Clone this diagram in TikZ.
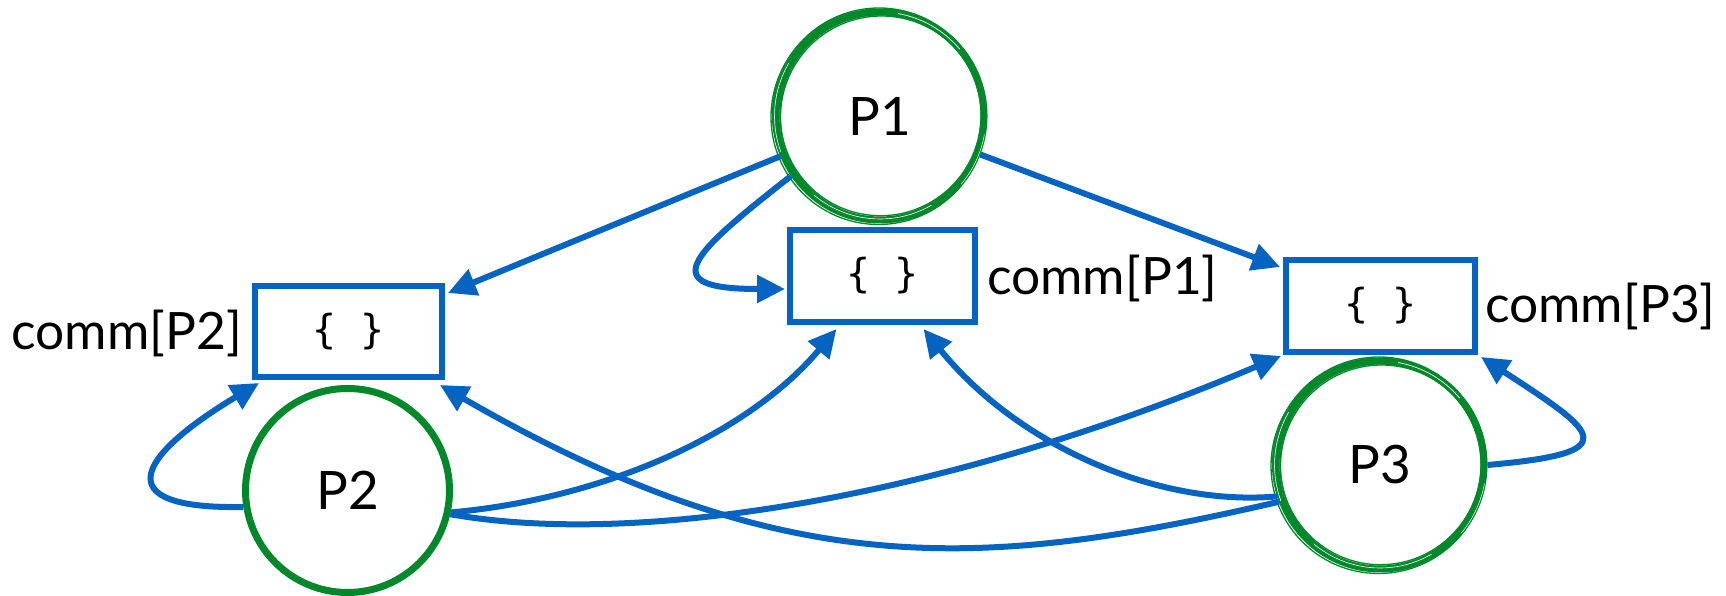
\documentclass[tikz,border=0pt]{standalone}
\usepackage{fontspec}
\setmainfont{Lato}
\newfontfamily\monof{DejaVu Sans Mono}
\usetikzlibrary{arrows.meta,calc}
\definecolor{lnblue}{RGB}{5,99,193}
\definecolor{pgreen}{RGB}{0,136,43}
\begin{document}
\begin{tikzpicture}[x=1pt,y=1pt,
  proc/.style={circle, draw=pgreen, line width=7pt, minimum size=210pt, inner sep=0pt, fill=white, font=\fontsize{53}{60}\selectfont},
  commbox/.style={rectangle, draw=lnblue, line width=6pt, minimum width=188pt, minimum height=92pt, inner sep=0pt, fill=white, font=\monof\fontsize{40}{44}\selectfont},
  lbl/.style={inner sep=0pt, font=\fontsize{51.5}{60}\selectfont},
  conn/.style={draw=lnblue, line width=6pt, -{Triangle[length=28pt,width=27pt]}},
  sketch/.style={pgreen, line width=1.3pt}
]
\useasboundingbox (0,0) rectangle (1726,596);

% boxes
\node[commbox, minimum width=185pt] (b1) at (882.5,320) {\{ \}};
\node[commbox, minimum width=187pt, minimum height=91pt] (b2) at (348.5,264.5) {\{ \}};
\node[commbox, minimum width=189pt] (b3) at (1380.5,290) {\{ \}};

% labels
\node[lbl, anchor=base east] (l2) at (242,246) {comm[P2]};
\node[lbl, anchor=base west] (l1) at (987,301) {comm[P1]};
\node[lbl, anchor=base west] (l3) at (1485,273) {comm[P3]};

% processes
\node[proc, minimum size=208pt] (p1) at (880,480) {P1};
\node[proc, minimum size=204pt] (p2) at (347.5,105.5) {P2};
\node[proc, minimum size=208pt] (p3) at (1380,131) {P3};

% sketchy strokes on P1 and P3
\foreach \c in {p1,p3}{
  \foreach \dx/\dy/\r in {1.5/-1/101, -1/1.5/106.5, 0.5/0.8/100.5, -1.5/-1/107.5, 1/1/105.5}
    \draw[sketch] ($(\c)+(\dx,\dy)$) circle (\r);
  \draw[white, line width=0.7pt] ($(\c)+(40:104)$) arc (40:80:104);
  \draw[white, line width=0.6pt] ($(\c)+(150:105.5)$) arc (150:200:105.5);
  \draw[white, line width=0.6pt] ($(\c)+(230:103)$) arc (230:300:103);
  \draw[white, line width=0.5pt] ($(\c)+(320:106)$) arc (320:350:106);
}

% connectors
\draw[conn] (p1.202) -- ($(b2.north east)+(3,-10)$);
\draw[conn] (p1.214) .. controls +(218:130) and +(180:130) .. ($(b1.west)+(-2,-13)$);
\draw[conn] (p1.339) -- ($(b3.north west)+(-3,-10)$);
\draw[conn] (p2.189) .. controls +(181:140) and +(211:140) .. ($(b2.south west)+(7,-3)$);
\draw[conn] (p2.348) .. controls +(5:150) and +(230:140) .. ($(b1.south)+(-46,-4)$);
\draw[conn] (p2.347) .. controls +(350:200) and +(203:350) .. ($(b3.south west)+(-2,-1)$);
\draw[conn] (p3.197) .. controls +(185:120) and +(309:150) .. ($(b1.south)+(41,-4)$);
\draw[conn] (p3.200) .. controls +(193:300) and +(330:400) .. ($(b2.south east)+(-5,-5)$);
\draw[conn] (p3.0) .. controls +(5:140) and +(327:140) .. ($(b3.south east)+(3,-2)$);
\end{tikzpicture}
\end{document}
